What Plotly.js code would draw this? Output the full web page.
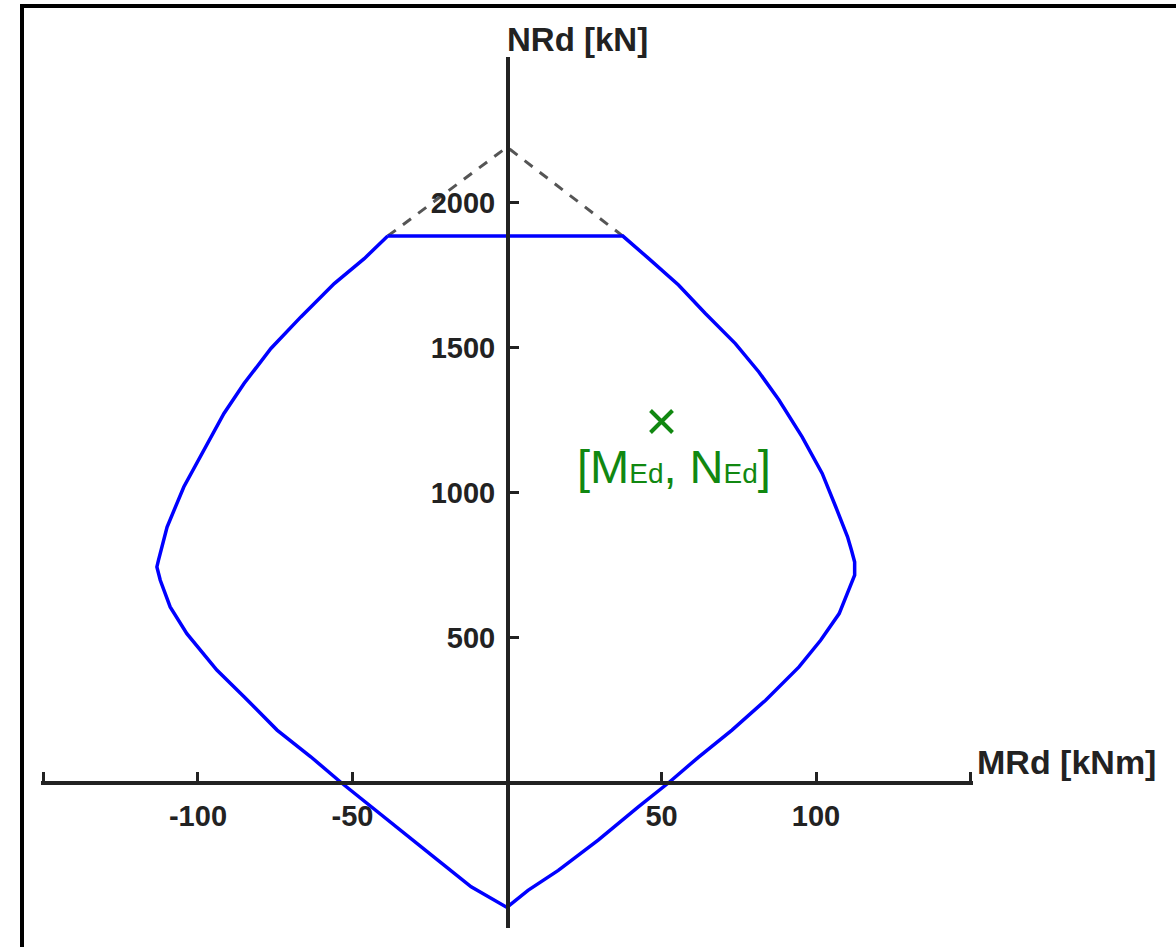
<!DOCTYPE html>
<html>
<head>
<meta charset="utf-8">
<script src="https://cdn.plot.ly/plotly-3.0.1.min.js"></script>
<style>
  html, body { margin: 0; padding: 0; background: #fff; }
  #wrap { position: relative; width: 1176px; height: 947px; overflow: hidden; }
  #chart { position: absolute; left: 0; top: 0; width: 1176px; height: 947px; }
  #frame { position: absolute; left: 20px; top: 4px; width: 1200px; height: 1000px;
           border-left: 4px solid #000; border-top: 4px solid #000; pointer-events: none; }
</style>
</head>
<body>
<div id="wrap">
  <div id="chart"></div>
  <div id="frame"></div>
</div>
<script>
// Interaction diagram: MRd [kNm] vs NRd [kN]
const curveM = [-38.6, 37.5, 45.8, 55.5, 64.2, 73.9, 81.5, 88.0, 95.5, 102.0, 106.4, 110.2, 111.5, 112.5, 112.5, 110.5,
                107.5, 101.5, 94.5, 83.7, 72.8, 62.0, 52.5, 42.5, 29.5, 16.6, 6.8, 0,
                -11.6, -22.4, -33.2, -44.0, -53.8, -63.5, -74.4, -85.1, -93.9, -103.6, -109.0, -112.2, -113.3,
                -112.8, -110.0, -104.6, -98.1, -91.6, -85.1, -76.4, -66.7, -55.9, -46.2, -38.6];
const curveN = [1885, 1885, 1808, 1716, 1618, 1514, 1416, 1319, 1192, 1066, 950, 847, 800, 760, 715, 660,
                582, 490, 398, 283, 180, 87, 0, -85, -200, -304, -373, -432,
                -361, -269, -177, -85, 0, 88, 180, 295, 387, 513, 605, 697, 743,
                766, 881, 1019, 1146, 1273, 1376, 1497, 1606, 1721, 1807, 1885];

// theoretical envelope (dashed) above the cut-off
const envM = [-38.6, 0, 37.5];
const envN = [1885, 2192, 1885];

// design load point
const medM = [50];
const medN = [1245];

const xTickVals = [-150, -100, -50, 50, 100, 150];
const xTickText = ['', '-100', '-50', '50', '100', ''];
const yTickVals = [-500, 500, 1000, 1500, 2000, 2500];
const yTickText = ['', '500', '1000', '1500', '2000', ''];

const xRange = [-150.8, 150.8];
const yRange = [-503, 2503];

const tickFont = { family: 'Liberation Sans, Arial, sans-serif', size: 29, color: '#222', weight: 'bold' };
const axisColor = '#222';

const traces = [
  { x: envM, y: envN, mode: 'lines', line: { color: '#555', width: 3, dash: '10px,9px' }, hoverinfo: 'skip' },
  { x: curveM, y: curveN, mode: 'lines', line: { color: '#0000ff', width: 3.5 } },
  { x: medM, y: medN, mode: 'markers',
    marker: { symbol: 'x-thin-open', size: 22, color: '#118811', line: { color: '#118811', width: 4 } } }
];

const layout = {
  width: 1176, height: 947,
  margin: { l: 41, r: 203, t: 57, b: 19 },
  paper_bgcolor: '#fff', plot_bgcolor: '#fff',
  showlegend: false,
  xaxis: {
    range: xRange, anchor: 'free', position: (0 - yRange[0]) / (yRange[1] - yRange[0]),
    showgrid: false, zeroline: false, showline: true, linecolor: axisColor, linewidth: 3.5,
    tickmode: 'array', tickvals: xTickVals, ticktext: xTickText,
    ticks: 'inside', ticklen: 9, tickwidth: 3, tickcolor: axisColor,
    tickfont: tickFont, ticklabelstandoff: 6
  },
  yaxis: {
    range: yRange, anchor: 'free', position: (0 - xRange[0]) / (xRange[1] - xRange[0]),
    showgrid: false, zeroline: false, showline: true, linecolor: axisColor, linewidth: 3.5,
    tickmode: 'array', tickvals: yTickVals, ticktext: yTickText,
    ticks: 'inside', ticklen: 9, tickwidth: 3, tickcolor: axisColor,
    tickfont: tickFont, ticklabelstandoff: 5
  },
  annotations: [
    { text: '<b>NRd [kN]</b>', xref: 'x', yref: 'y', x: 0, y: yRange[1], xanchor: 'left', yanchor: 'bottom',
      xshift: -2, yshift: -3, showarrow: false,
      font: { family: 'Liberation Sans, Arial, sans-serif', size: 33, color: '#222' } },
    { text: '<b>MRd [kNm]</b>', xref: 'x', yref: 'y', x: xRange[1], y: 0, xanchor: 'left', yanchor: 'bottom',
      xshift: 2, yshift: -1, showarrow: false,
      font: { family: 'Liberation Sans, Arial, sans-serif', size: 34, color: '#222' } },
    { text: '[M<span style="font-size:28px">Ed</span>, N<span style="font-size:28px">Ed</span>]',
      xref: 'x', yref: 'y', x: medM[0], y: medN[0], xanchor: 'center', yanchor: 'top',
      xshift: 12, yshift: -16, showarrow: false,
      font: { family: 'Liberation Sans, Arial, sans-serif', size: 47, color: '#118811' } }
  ]
};

Plotly.newPlot('chart', traces, layout, { staticPlot: true, displayModeBar: false });
</script>
</body>
</html>
